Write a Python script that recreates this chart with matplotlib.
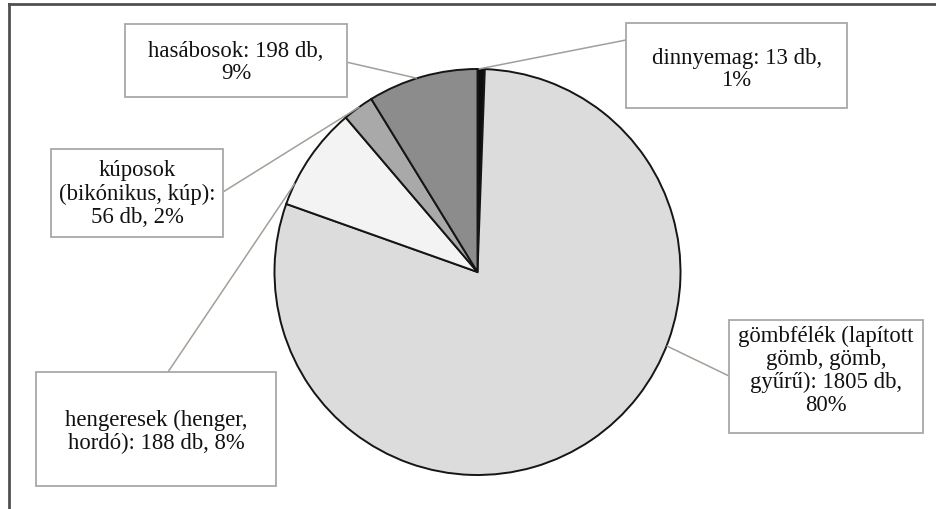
import numpy as np
import matplotlib
matplotlib.use("Agg")
import matplotlib.pyplot as plt
from matplotlib.patches import Rectangle
from matplotlib.lines import Line2D

# data (clockwise from 12 o'clock)
names = ["dinnyemag", "gömbfélék", "hengeresek", "kúposok", "hasábosok"]
counts = [13, 1805, 188, 56, 198]
labels = [
    "dinnyemag: 13 db,\n1%",
    "gömbfélék (lapított\ngömb, gömb,\ngyűrű): 1805 db,\n80%",
    "hengeresek (henger,\nhordó): 188 db, 8%",
    "kúposok\n(bikónikus, kúp):\n56 db, 2%",
    "hasábosok: 198 db,\n9%",
]
colors = ["#0d0d0d", "#dcdcdc", "#f3f3f3", "#a9a9a9", "#8c8c8c"]

W, H = 936, 509

# label boxes in pixels (left, top, right, bottom), text nudge, leader start, where on wedge the line ends
boxes = [(626, 23, 847, 108), (729, 320, 923, 433), (36, 372, 276, 486),
         (51, 149, 223, 237), (125, 24, 347, 97)]
nudge = [4, -6, 3, 1, 2]
starts = [(626, 40), (729, 376), (168, 372), (223, 192), (346, 62)]
wedge_pos = [0.85, 0.62, 0.79, 0.45, 0.55]


def py(y):
    return H - y


fig = plt.figure(figsize=(W / 100, H / 100), dpi=100)
ax = fig.add_axes([0, 0, 1, 1])

cx, cy, r = 477.5, py(272), 203
wedges, _ = ax.pie(counts, colors=colors, startangle=90, counterclock=False,
                   center=(cx, cy), radius=r, frame=True,
                   wedgeprops=dict(edgecolor="#151515", linewidth=1.4))
ax.set_xlim(0, W)
ax.set_ylim(0, H)
ax.set_aspect("equal")
ax.axis("off")

for i, w in enumerate(wedges):
    t1, t2 = np.radians(w.theta1), np.radians(w.theta2)
    t = t1 + (t2 - t1) * wedge_pos[i]
    ex, ey = cx + r * np.cos(t), cy + r * np.sin(t)
    sx, sy = starts[i]
    ax.plot([sx, ex], [py(sy), ey], color="#a59e98", lw=1.1, zorder=1,
            solid_capstyle="butt")
    l, tp, rt, b = boxes[i]
    ax.add_patch(Rectangle((l, py(b)), rt - l, b - tp, facecolor="white",
                           edgecolor="#a8a8a8", lw=1.3, zorder=3))
    ax.text((l + rt) / 2, py((tp + b) / 2 + nudge[i]), labels[i], ha="center",
            va="center", fontsize=16.4, family="Liberation Serif", color="#111111",
            linespacing=1.12, zorder=4)

# outer frame (top and left edges visible)
fig.add_artist(Line2D([9 / W, 1], [1 - 4 / H, 1 - 4 / H], color="#505050", lw=2))
fig.add_artist(Line2D([9 / W, 9 / W], [0, 1 - 4 / H], color="#505050", lw=2))

fig.savefig("out.png", dpi=100, facecolor="white")
